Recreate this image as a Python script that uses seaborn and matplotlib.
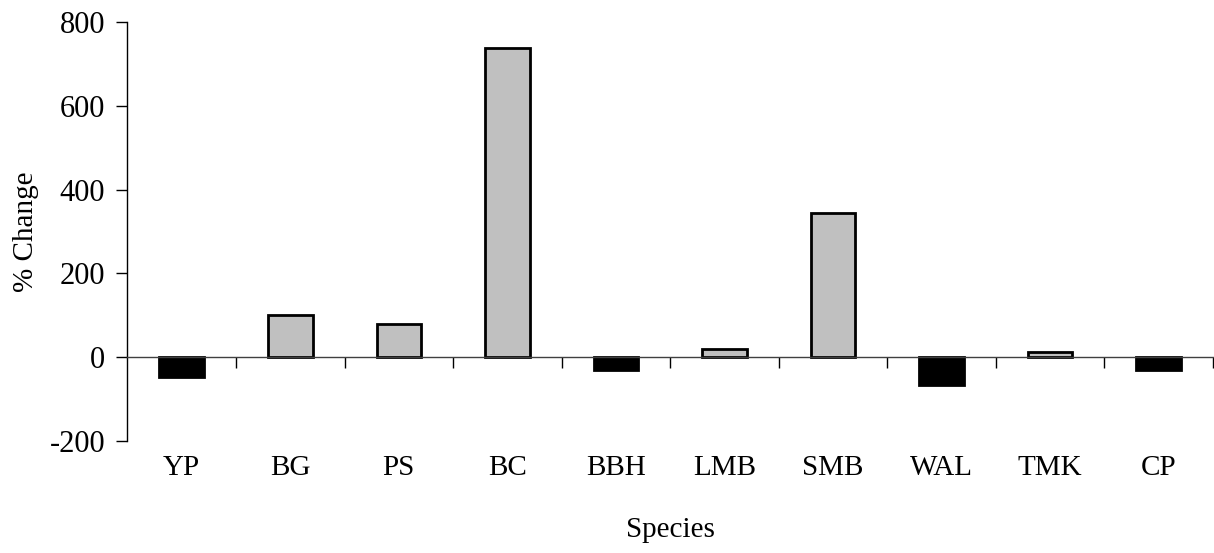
import seaborn as sns
import numpy as np
import pandas as pd
import matplotlib.pyplot as plt
import matplotlib.ticker as ticker

species = ['YP', 'BG', 'PS', 'BC', 'BBH', 'LMB', 'SMB', 'WAL', 'TMK', 'CP']
pct_change = [-48, 100, 80, 738, -30, 18, 345, -68, 12, -32]
y_ticks = [-200, 0, 200, 400, 600, 800]

df = pd.DataFrame({'Species': species, 'Change': pct_change})
df['sign'] = np.where(df['Change'] >= 0, 'pos', 'neg')

sns.set_style('white')
plt.rcParams['font.family'] = ['Liberation Serif', 'DejaVu Serif']
plt.rcParams['axes.unicode_minus'] = False
plt.rcParams['text.color'] = 'black'
plt.rcParams['axes.labelcolor'] = 'black'
plt.rcParams['xtick.color'] = 'black'
plt.rcParams['ytick.color'] = 'black'

fig = plt.figure(figsize=(12.14, 5.53), dpi=100)
ax = fig.add_axes([0.105, 0.203, 0.894, 0.757])

sns.barplot(data=df, x='Species', y='Change', hue='sign',
            palette={'pos': '#C0C0C0', 'neg': 'black'}, dodge=False,
            width=0.41, edgecolor='black', linewidth=2, legend=False, ax=ax)

ax.set_xlim(-0.5, len(species) - 0.5)
ax.set_ylim(-200, 800)
ax.set_yticks(y_ticks)
ax.tick_params(axis='y', direction='out', length=8, width=1, labelsize=22, pad=8, left=True)

# x axis line sits at zero with boundary ticks
for s in ['top', 'right']:
    ax.spines[s].set_visible(False)
ax.spines['bottom'].set_position(('data', 0))
ax.spines['bottom'].set_linewidth(1)
ax.spines['bottom'].set_color('#404040')
ax.spines['left'].set_linewidth(1)
ax.spines['left'].set_color('black')
ax.set_xticks(np.arange(len(species)))
ax.set_xticklabels([])
ax.tick_params(axis='x', which='major', length=0)
ax.xaxis.set_minor_locator(ticker.FixedLocator(np.arange(0.5, len(species), 1)))
ax.tick_params(axis='x', which='minor', direction='out', length=8, width=1, bottom=True)

sec = ax.secondary_xaxis('bottom')
sec.set_xticks(np.arange(len(species)))
sec.set_xticklabels(species)
sec.tick_params(length=0, labelsize=21, pad=10)
sec.spines['bottom'].set_visible(False)
sec.set_xlabel('Species', fontsize=21, labelpad=26)

ax.set_xlabel('')
ax.set_ylabel('% Change', fontsize=21, labelpad=8)

fig.savefig('out.png', dpi=100)
